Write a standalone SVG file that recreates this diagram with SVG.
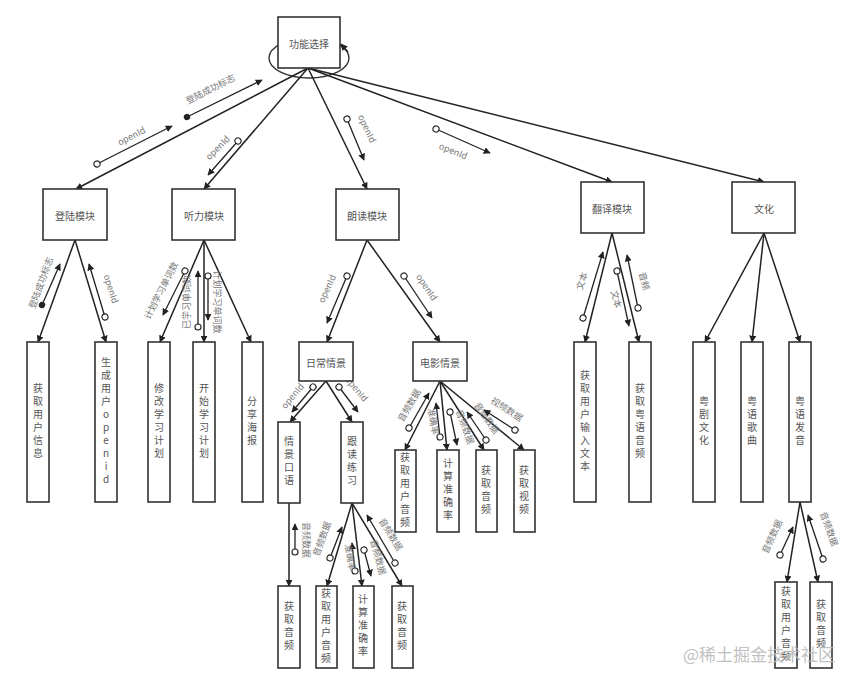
<svg xmlns="http://www.w3.org/2000/svg" width="863" height="684" viewBox="0 0 863 684">
<defs>
<marker id="ar" viewBox="0 0 10 10" refX="9" refY="5" markerWidth="7" markerHeight="7" markerUnits="userSpaceOnUse" orient="auto"><path d="M0,0 L10,5 L0,10 Z" fill="#222"/></marker>
<marker id="oc" viewBox="0 0 10 10" refX="5" refY="5" markerWidth="8" markerHeight="8" markerUnits="userSpaceOnUse" orient="auto"><circle cx="5" cy="5" r="3.8" fill="#fff" stroke="#222" stroke-width="1.4"/></marker>
<marker id="fc" viewBox="0 0 10 10" refX="5" refY="5" markerWidth="8" markerHeight="8" markerUnits="userSpaceOnUse" orient="auto"><circle cx="5" cy="5" r="4" fill="#222"/></marker>
<style>
.b{fill:#fff;stroke:#333;stroke-width:1.6}
.c{stroke:#222;stroke-width:1.5;fill:none;marker-end:url(#ar)}
.la{stroke:#222;stroke-width:1.3;marker-start:url(#oc);marker-end:url(#ar)}
.lf{stroke:#222;stroke-width:1.3;marker-start:url(#fc);marker-end:url(#ar)}
text{font-family:"Noto Sans CJK SC","Liberation Sans",sans-serif;fill:#555}
.t{font-size:10px;text-anchor:middle;dominant-baseline:central}
.v{font-size:10px;writing-mode:vertical-rl;text-orientation:upright;letter-spacing:3px;text-anchor:middle}
.l{font-size:9px;text-anchor:middle;fill:#777}
</style>
</defs>
<g id="connectors">
<ellipse cx="309" cy="58" rx="40" ry="20" fill="none" stroke="#333" stroke-width="1.4"/>
<path d="M348,52 L341,44" class="c"/>
<line x1="308" y1="68" x2="76" y2="189" class="c"/>
<line x1="308" y1="68" x2="204" y2="189" class="c"/>
<line x1="308" y1="68" x2="367" y2="189" class="c"/>
<line x1="308" y1="68" x2="612" y2="182" class="c"/>
<line x1="308" y1="68" x2="764" y2="182" class="c"/>
<line x1="75" y1="240" x2="38" y2="342" class="c"/>
<line x1="75" y1="240" x2="106" y2="342" class="c"/>
<line x1="204" y1="240" x2="160" y2="342" class="c"/>
<line x1="204" y1="240" x2="204" y2="342" class="c"/>
<line x1="204" y1="240" x2="251" y2="342" class="c"/>
<line x1="367" y1="240" x2="327" y2="342" class="c"/>
<line x1="367" y1="240" x2="440" y2="342" class="c"/>
<line x1="326" y1="381" x2="290" y2="422" class="c"/>
<line x1="326" y1="381" x2="352" y2="422" class="c"/>
<line x1="440" y1="381" x2="405" y2="450" class="c"/>
<line x1="440" y1="381" x2="447" y2="450" class="c"/>
<line x1="440" y1="381" x2="484" y2="450" class="c"/>
<line x1="440" y1="381" x2="524" y2="450" class="c"/>
<line x1="289" y1="503" x2="289" y2="586" class="c"/>
<line x1="352" y1="503" x2="327" y2="586" class="c"/>
<line x1="352" y1="503" x2="362" y2="586" class="c"/>
<line x1="352" y1="503" x2="402" y2="586" class="c"/>
<line x1="612" y1="233" x2="585" y2="342" class="c"/>
<line x1="612" y1="233" x2="639" y2="342" class="c"/>
<line x1="764" y1="233" x2="705" y2="342" class="c"/>
<line x1="764" y1="233" x2="752" y2="342" class="c"/>
<line x1="764" y1="233" x2="800" y2="342" class="c"/>
<line x1="800" y1="502" x2="787" y2="582" class="c"/>
<line x1="800" y1="502" x2="818" y2="582" class="c"/>
<line x1="97" y1="164" x2="172" y2="126" class="la"/>
<text class="l" transform="translate(133,139) rotate(-27)">openId</text>
<line x1="187" y1="117" x2="262" y2="80" class="lf"/>
<text class="l" transform="translate(212,92) rotate(-27)">登陆成功标志</text>
<line x1="238" y1="141" x2="208" y2="175" class="la"/>
<text class="l" transform="translate(220,150) rotate(-45)">openId</text>
<line x1="347" y1="119" x2="364" y2="160" class="la"/>
<text class="l" transform="translate(364,130) rotate(65)">openId</text>
<line x1="436" y1="129" x2="490" y2="153" class="la"/>
<text class="l" transform="translate(452,154) rotate(22)">openId</text>
<line x1="42" y1="305" x2="60" y2="264" class="lf"/>
<text class="l" transform="translate(44,284) rotate(-70)">登陆成功标志</text>
<line x1="105" y1="317" x2="89" y2="264" class="la"/>
<text class="l" transform="translate(108,290) rotate(72)">openId</text>
<line x1="185" y1="271" x2="163" y2="315" class="la"/>
<text class="l" transform="translate(164,292) rotate(-63)">计划学习单词数</text>
<line x1="198" y1="327" x2="198" y2="271" class="la"/>
<text class="l" transform="translate(190,302) rotate(-90)">已学习单词数</text>
<line x1="208" y1="276" x2="208" y2="320" class="la"/>
<text class="l" transform="translate(214,302) rotate(90)">计划学习单词数</text>
<line x1="347" y1="276" x2="327" y2="323" class="la"/>
<text class="l" transform="translate(330,290) rotate(-65)">openId</text>
<line x1="404" y1="276" x2="432" y2="318" class="la"/>
<text class="l" transform="translate(424,289) rotate(56)">openId</text>
<line x1="313" y1="387" x2="292" y2="412" class="la"/>
<text class="l" transform="translate(295,398) rotate(-50)">openId</text>
<line x1="339" y1="387" x2="358" y2="412" class="la"/>
<text class="l" transform="translate(354,391) rotate(50)">openId</text>
<line x1="409" y1="428" x2="429" y2="393" class="la"/>
<text class="l" transform="translate(412,407) rotate(-60)">音频数据</text>
<line x1="440" y1="437" x2="436" y2="403" class="la"/>
<text class="l" transform="translate(430,422) rotate(80)">准确率</text>
<line x1="450" y1="412" x2="457" y2="445" class="la"/>
<text class="l" transform="translate(462,428) rotate(70)">音频数据</text>
<line x1="486" y1="440" x2="467" y2="412" class="la"/>
<text class="l" transform="translate(484,420) rotate(55)">音频数据</text>
<line x1="515" y1="430" x2="484" y2="410" class="la"/>
<text class="l" transform="translate(505,412) rotate(33)">视频数据</text>
<line x1="295" y1="552" x2="295" y2="524" class="la"/>
<text class="l" transform="translate(303,540) rotate(90)">音频数据</text>
<line x1="330" y1="558" x2="342" y2="527" class="la"/>
<text class="l" transform="translate(325,540) rotate(-70)">音频数据</text>
<line x1="355" y1="571" x2="352" y2="543" class="la"/>
<text class="l" transform="translate(347,558) rotate(80)">准确率</text>
<line x1="364" y1="550" x2="371" y2="576" class="la"/>
<text class="l" transform="translate(375,558) rotate(75)">音频数据</text>
<line x1="395" y1="563" x2="367" y2="515" class="la"/>
<text class="l" transform="translate(388,536) rotate(58)">音频数据</text>
<line x1="583" y1="318" x2="603" y2="252" class="la"/>
<text class="l" transform="translate(585,282) rotate(-72)">文本</text>
<line x1="617" y1="271" x2="629" y2="326" class="la"/>
<text class="l" transform="translate(613,300) rotate(75)">文本</text>
<line x1="638" y1="308" x2="627" y2="255" class="la"/>
<text class="l" transform="translate(641,282) rotate(75)">音频</text>
<line x1="780" y1="555" x2="793" y2="527" class="la"/>
<text class="l" transform="translate(775,538) rotate(-65)">音频数据</text>
<line x1="823" y1="559" x2="808" y2="515" class="la"/>
<text class="l" transform="translate(826,530) rotate(70)">音频数据</text>
</g>
<g id="n0"><rect class="b" x="278" y="17" width="62" height="51"/><text class="t" x="309" y="43">功能选择</text></g>
<g id="n1"><rect class="b" x="43" y="189" width="64" height="51"/><text class="t" x="75" y="215">登陆模块</text></g>
<g id="n2"><rect class="b" x="172" y="189" width="63" height="51"/><text class="t" x="204" y="215">听力模块</text></g>
<g id="n3"><rect class="b" x="336" y="189" width="63" height="51"/><text class="t" x="367" y="215">朗读模块</text></g>
<g id="n4"><rect class="b" x="581" y="182" width="63" height="51"/><text class="t" x="612" y="208">翻译模块</text></g>
<g id="n5"><rect class="b" x="732" y="182" width="63" height="51"/><text class="t" x="764" y="208">文化</text></g>
<g id="n6"><rect class="b" x="27" y="342" width="22" height="160"/><text class="v" x="38" y="422">获取用户信息</text></g>
<g id="n7"><rect class="b" x="95" y="342" width="22" height="160"/><text class="v" x="106" y="422">生成用户openid</text></g>
<g id="n8"><rect class="b" x="148" y="342" width="22" height="160"/><text class="v" x="159" y="422">修改学习计划</text></g>
<g id="n9"><rect class="b" x="193" y="342" width="22" height="160"/><text class="v" x="204" y="422">开始学习计划</text></g>
<g id="n10"><rect class="b" x="242" y="342" width="21" height="160"/><text class="v" x="252" y="422">分享海报</text></g>
<g id="n11"><rect class="b" x="299" y="342" width="54" height="39"/><text class="t" x="326" y="362">日常情景</text></g>
<g id="n12"><rect class="b" x="413" y="342" width="54" height="39"/><text class="t" x="440" y="362">电影情景</text></g>
<g id="n13"><rect class="b" x="278" y="422" width="22" height="81"/><text class="v" x="289" y="462">情景口语</text></g>
<g id="n14"><rect class="b" x="341" y="422" width="22" height="81"/><text class="v" x="352" y="462">跟读练习</text></g>
<g id="n15"><rect class="b" x="395" y="450" width="21" height="82"/><text class="v" x="405" y="491">获取用户音频</text></g>
<g id="n16"><rect class="b" x="437" y="450" width="22" height="82"/><text class="v" x="448" y="491">计算准确率</text></g>
<g id="n17"><rect class="b" x="476" y="450" width="21" height="82"/><text class="v" x="486" y="491">获取音频</text></g>
<g id="n18"><rect class="b" x="514" y="450" width="21" height="82"/><text class="v" x="524" y="491">获取视频</text></g>
<g id="n19"><rect class="b" x="278" y="586" width="22" height="82"/><text class="v" x="289" y="627">获取音频</text></g>
<g id="n20"><rect class="b" x="316" y="586" width="21" height="82"/><text class="v" x="326" y="627">获取用户音频</text></g>
<g id="n21"><rect class="b" x="353" y="586" width="21" height="82"/><text class="v" x="363" y="627">计算准确率</text></g>
<g id="n22"><rect class="b" x="392" y="586" width="21" height="82"/><text class="v" x="402" y="627">获取音频</text></g>
<g id="n23"><rect class="b" x="574" y="342" width="22" height="160"/><text class="v" x="585" y="422">获取用户输入文本</text></g>
<g id="n24"><rect class="b" x="629" y="342" width="22" height="160"/><text class="v" x="640" y="422">获取粤语音频</text></g>
<g id="n25"><rect class="b" x="693" y="342" width="22" height="160"/><text class="v" x="704" y="422">粤剧文化</text></g>
<g id="n26"><rect class="b" x="741" y="342" width="22" height="160"/><text class="v" x="752" y="422">粤语歌曲</text></g>
<g id="n27"><rect class="b" x="789" y="342" width="22" height="160"/><text class="v" x="800" y="422">粤语发音</text></g>
<g id="n28"><rect class="b" x="775" y="582" width="22" height="86"/><text class="v" x="786" y="625">获取用户音频</text></g>
<g id="n29"><rect class="b" x="810" y="582" width="22" height="86"/><text class="v" x="821" y="625">获取音频</text></g>
<text x="683" y="661" style="font-size:17px;fill:#bbb;opacity:0.9">@稀土掘金技术社区</text>
</svg>
